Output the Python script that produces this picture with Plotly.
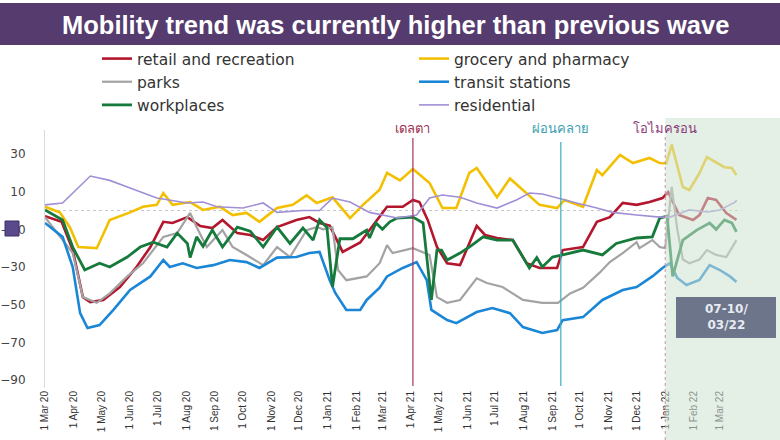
import plotly.graph_objects as go
import pandas as pd

# ---------------- data ----------------
retail_dates = ["2020-03-01","2020-03-19","2020-03-31","2020-04-11","2020-04-19","2020-05-03","2020-05-21","2020-06-08",
                "2020-06-23","2020-07-07","2020-07-17","2020-08-02","2020-08-16","2020-08-29","2020-09-09","2020-09-25",
                "2020-10-09","2020-10-23","2020-11-07","2020-11-28","2020-12-12","2020-12-23","2021-01-03","2021-01-12",
                "2021-01-17","2021-02-05","2021-02-15","2021-03-06","2021-03-23","2021-04-03","2021-04-10","2021-04-19",
                "2021-04-29","2021-05-10","2021-05-24","2021-06-03","2021-06-11","2021-06-20","2021-07-03","2021-07-20",
                "2021-08-04","2021-08-18","2021-09-06","2021-09-12","2021-10-04","2021-10-19","2021-11-02","2021-11-16",
                "2021-12-01","2021-12-15","2021-12-29","2022-01-04","2022-01-09","2022-01-16","2022-01-31","2022-02-07",
                "2022-02-16","2022-02-25","2022-03-08","2022-03-19"]
retail = [-3, -6, -21, -46, -48.6, -47.5, -40.6, -30,
          -19.4, -6, -6.6, -3.5, -8.2, -9.3, -5, -12,
          -13, -15.7, -8.8, -5, -3.5, -6.6, -8, -17,
          -22, -17, -10.4, 2, 2, 5.6, 4.5, -5,
          -19.4, -28, -29, -17.5, -8.2, -13, -14.6, -15.7,
          -28, -30.5, -30.5, -21, -19.4, -6, -3.5, 4,
          3, 4.5, 6.6, 9.8, 4.5, -2.4, -5, -2.4,
          6.6, 5.6, -1.3, -5]

grocery_dates = ["2020-03-01","2020-03-17","2020-03-28","2020-04-06","2020-04-26","2020-05-10","2020-06-01","2020-06-15",
                 "2020-06-30","2020-07-07","2020-07-17","2020-08-05","2020-08-19","2020-09-06","2020-09-20","2020-10-05",
                 "2020-10-19","2020-11-07","2020-11-24","2020-12-09","2020-12-20","2021-01-06","2021-01-25","2021-02-08",
                 "2021-02-26","2021-03-06","2021-03-20","2021-04-03","2021-04-21","2021-05-05","2021-05-20","2021-06-03",
                 "2021-06-11","2021-07-03","2021-07-17","2021-08-04","2021-08-18","2021-09-06","2021-09-14","2021-10-04",
                 "2021-10-19","2021-10-25","2021-11-13","2021-11-27","2021-12-15","2021-12-26","2022-01-02","2022-01-08",
                 "2022-01-13","2022-01-20","2022-01-27","2022-02-07","2022-02-15","2022-02-21","2022-03-06","2022-03-14",
                 "2022-03-19"]
grocery = [2, -1, -9, -19.4, -20, -5, -1, 2,
           3, 9.3, 3, 4.5, 0.3, 2, -2.4, -1.3,
           -6, 1.3, 3, 8, 4, 7, -4, 3,
           11, 20, 16, 22, 14.6, 1.3, 1.3, 20,
           22.6, 7, 17, 9.3, 3, 1.3, 5.6, 2,
           21.5, 18.8, 29.5, 25.2, 27.9, 25.2, 25, 35,
           25, 12.5, 10.9, 19.9, 28.4, 26.8, 23, 22.6,
           18.8]

parks_dates = ["2020-03-01","2020-03-31","2020-04-11","2020-04-26","2020-05-10","2020-05-29","2020-06-15","2020-07-07",
               "2020-07-22","2020-08-05","2020-08-12","2020-08-23","2020-09-09","2020-09-20","2020-10-05","2020-10-23",
               "2020-11-07","2020-11-21","2020-12-09","2020-12-20","2020-12-27","2021-01-06","2021-01-12","2021-01-21",
               "2021-02-12","2021-02-26","2021-03-06","2021-03-12","2021-04-03","2021-04-21","2021-04-29","2021-05-10",
               "2021-05-24","2021-06-11","2021-06-22","2021-07-09","2021-07-31","2021-08-21","2021-09-07","2021-09-20",
               "2021-10-04","2021-10-22","2021-11-02","2021-11-16","2021-12-01","2021-12-04","2021-12-18","2021-12-26",
               "2022-01-01","2022-01-08","2022-01-14","2022-01-20","2022-01-27","2022-02-07","2022-02-15","2022-02-25",
               "2022-03-08","2022-03-19"]
parks = [-3.5, -22.6, -46, -49, -44, -35, -28, -14,
         -12, -1.3, -8.8, -19.4, -10.4, -19.4, -23.6, -29,
         -19.4, -24.7, -10.4, -8.8, -10, -9, -31.6, -37,
         -35, -28, -18.4, -22.6, -20, -23.6, -46, -49,
         -47.5, -36, -38.5, -40.6, -47.5, -49, -49, -44,
         -41, -33, -27.4, -22.6, -16.8, -20, -15.7, -19.4,
         -20, 12.5, -10, -26, -28, -26, -21, -23.6,
         -24.7, -15.7]

transit_dates = ["2020-03-01","2020-03-20","2020-03-31","2020-04-08","2020-04-16","2020-04-29","2020-05-14","2020-06-01",
                 "2020-06-23","2020-07-07","2020-07-14","2020-07-28","2020-08-12","2020-08-30","2020-09-17","2020-10-05",
                 "2020-10-19","2020-11-07","2020-11-28","2020-12-12","2020-12-23","2021-01-03","2021-01-09","2021-01-21",
                 "2021-02-05","2021-02-12","2021-02-26","2021-03-06","2021-03-23","2021-04-07","2021-04-18","2021-04-23",
                 "2021-05-10","2021-05-20","2021-06-11","2021-06-28","2021-07-17","2021-07-31","2021-08-21","2021-09-06",
                 "2021-09-12","2021-10-04","2021-10-25","2021-11-16","2021-12-01","2021-12-18","2021-12-29","2022-01-06",
                 "2022-01-09","2022-01-14","2022-01-24","2022-02-07","2022-02-18","2022-03-01","2022-03-12","2022-03-19"]
transit = [-6.6, -14, -30, -54.5, -62.4, -60.8, -52.8, -42.2,
           -35, -26.3, -30, -28, -30.5, -29, -26.3, -27.4,
           -30.5, -25, -24.7, -22.6, -22, -37, -43.8, -52.8,
           -52.8, -47.5, -41, -35, -30.5, -27.4, -37, -52.8,
           -58.2, -59.8, -53.9, -51.8, -54.5, -61.9, -65, -63.5,
           -58.2, -56.6, -47.5, -42.2, -40.6, -35, -30.5, -28,
           -31, -35.8, -39.6, -36.9, -29, -31.6, -35, -38]

work_dates = ["2020-03-01","2020-03-20","2020-03-31","2020-04-13","2020-04-29","2020-05-10","2020-05-29","2020-06-12",
              "2020-06-26","2020-07-11","2020-07-22","2020-08-02","2020-08-05","2020-08-12","2020-08-19","2020-08-29",
              "2020-09-09","2020-09-25","2020-10-09","2020-10-23","2020-11-07","2020-11-21","2020-12-05","2020-12-16",
              "2020-12-23","2020-12-31","2021-01-06","2021-01-14","2021-01-28","2021-02-12","2021-02-15","2021-02-22",
              "2021-03-01","2021-03-09","2021-03-17","2021-04-03","2021-04-14","2021-04-23","2021-04-29","2021-05-04",
              "2021-05-10","2021-05-24","2021-06-03","2021-06-18","2021-07-03","2021-07-20","2021-08-07","2021-08-15",
              "2021-08-21","2021-09-01","2021-09-12","2021-10-04","2021-10-25","2021-11-09","2021-12-01","2021-12-18",
              "2021-12-26","2022-01-03","2022-01-09","2022-01-20","2022-02-04","2022-02-18","2022-02-25","2022-03-06",
              "2022-03-14","2022-03-19"]
workplaces = [0.3, -5, -19.4, -31.6, -28, -30, -24.7, -19.4,
              -16.8, -19.4, -12, -17.5, -25, -14, -19, -10.4,
              -19.4, -8.8, -11, -19.4, -8.8, -17.5, -9.3, -15.7,
              -5, -9, -40.6, -15, -15, -10.4, -14.6, -6.6,
              -10, -6, -4, -3.5, -6.6, -47.5, -21, -21,
              -26.3, -22.6, -19.4, -14, -15.7, -15.7, -30.5, -25,
              -30, -24.7, -23.6, -21, -23.6, -17.5, -14.6, -14,
              -4, -3, -35, -15.7, -10.4, -6.6, -10, -5,
              -6.6, -11.4]

resid_dates = ["2020-03-01","2020-03-20","2020-04-19","2020-05-10","2020-06-01","2020-06-30","2020-08-02","2020-08-19",
               "2020-09-03","2020-10-01","2020-10-23","2020-11-07","2020-12-05","2020-12-23","2021-01-06","2021-01-25",
               "2021-02-15","2021-02-26","2021-03-17","2021-04-07","2021-04-21","2021-05-05","2021-05-24","2021-06-11",
               "2021-07-03","2021-07-24","2021-08-07","2021-08-21","2021-09-06","2021-09-27","2021-10-19","2021-11-05",
               "2021-12-01","2021-12-26","2022-01-06","2022-01-27","2022-02-16","2022-03-01","2022-03-18","2022-03-19"]
residential = [3, 4, 18.3, 16, 12, 6.6, 4, 4.5,
               2, 1.3, 4, -1, 0, 0, 6.6, 4.5,
               -1, -2, -4, -2.4, 6.6, 8.2, 7, 4,
               1.3, 5.6, 9.3, 8.8, 6.6, 4, 1.3, -1,
               -2.4, -3.5, -3.5, 0.3, -0.8, 0.3, 4.5, 5.6]

y_ticks = [30, 10, -10, -30, -50, -70, -90]
wave_dates = ["2021-04-03", "2021-09-10", "2022-01-01"]
wave_labels = ["เดลตา", "ผ่อนคลาย", "โอไมครอน"]
title_text = "Mobility trend was currently higher than previous wave"
box_text = "07-10/<br>03/22"

# ---------------- layout geometry ----------------
W, H = 780, 440
ML, MR, MT, MB = 45, 38, 130, 52
PW, PH = W - ML - MR, H - MT - MB
X_START, X_END = pd.Timestamp("2020-03-01"), pd.Timestamp("2022-03-25")


def px(x):
    return (x - ML) / PW


def py(y):
    return (H - MB - y) / PH


def dfrac(d):
    return (pd.Timestamp(d) - X_START) / (X_END - X_START)


series = [
    ("retail and recreation", retail_dates, retail, "#b3162d", 2.6),
    ("grocery and pharmacy", grocery_dates, grocery, "#f2c000", 2.6),
    ("parks", parks_dates, parks, "#a3a3a3", 2.2),
    ("transit stations", transit_dates, transit, "#1c86d6", 2.6),
    ("workplaces", work_dates, workplaces, "#167a3c", 2.8),
    ("residential", resid_dates, residential, "#a18fd6", 1.6),
]

fig = go.Figure()
for name, d, v, c, w in series:
    fig.add_trace(go.Scatter(x=d, y=v, name=name, mode="lines",
                             line=dict(color=c, width=w)))

shapes = []
shapes.append(dict(type="line", xref="paper", yref="y", x0=0, x1=1, y0=0, y1=0,
                   line=dict(color="#c8c8c8", width=1, dash="dot"), layer="below"))
shapes.append(dict(type="line", xref="x", yref="paper", x0=wave_dates[0], x1=wave_dates[0],
                   y0=py(386), y1=py(138), line=dict(color="#a3355a", width=1.2)))
shapes.append(dict(type="line", xref="x", yref="paper", x0=wave_dates[1], x1=wave_dates[1],
                   y0=py(386), y1=py(142), line=dict(color="#3aaec0", width=1.2)))
shapes.append(dict(type="line", xref="x", yref="paper", x0=wave_dates[2], x1=wave_dates[2],
                   y0=py(440), y1=py(136), line=dict(color="#c86a8a", width=1, dash="dot")))
shapes.append(dict(type="rect", xref="paper", yref="paper", x0=dfrac(wave_dates[2]), x1=px(782),
                   y0=py(442), y1=py(118), fillcolor="rgba(205,225,210,0.55)", line=dict(width=0),
                   layer="above"))
shapes.append(dict(type="rect", xref="paper", yref="paper", x0=px(676), x1=px(776),
                   y0=py(338), y1=py(297), fillcolor="#6c7589", line=dict(width=0), layer="above"))
shapes.append(dict(type="rect", xref="paper", yref="paper", x0=px(-2), x1=px(782),
                   y0=py(45), y1=py(3), fillcolor="#563b6e", line=dict(width=0), layer="above"))
shapes.append(dict(type="rect", xref="paper", yref="paper", x0=px(5), x1=px(19),
                   y0=py(236), y1=py(221), fillcolor="#5a4a8c", line=dict(color="#3e2f66", width=1),
                   layer="above"))

annotations = [
    dict(text=title_text, xref="paper", yref="paper", x=px(396), y=py(25), xanchor="center",
         yanchor="middle", showarrow=False,
         font=dict(family="Liberation Sans", size=25.5, color="white", weight="bold")),
    dict(text=box_text, xref="paper", yref="paper", x=px(726), y=py(317), xanchor="center",
         yanchor="middle", showarrow=False,
         font=dict(family="DejaVu Sans", size=12, color="#e8ebf2", weight="bold")),
]
wave_colors = ["#9c2f4f", "#3a9fb0", "#8b3d7a"]
for d, lab, c in zip(wave_dates, wave_labels, wave_colors):
    annotations.append(dict(text=lab, xref="x", yref="paper", x=d, y=py(128), xanchor="center",
                            yanchor="middle", showarrow=False,
                            font=dict(family="Noto Sans, DejaVu Sans", size=13, color=c)))

fig.update_layout(
    width=W, height=H,
    margin=dict(l=ML, r=MR, t=MT, b=MB, pad=0, autoexpand=False),
    paper_bgcolor="white", plot_bgcolor="white",
    font=dict(family="DejaVu Sans", color="#333333"),
    showlegend=True,
    legend=dict(orientation="h", x=px(97), y=py(42), xanchor="left", yanchor="top",
                entrywidth=272, font=dict(family="DejaVu Sans", size=15.5, color="#333333"),
                bgcolor="rgba(0,0,0,0)", tracegroupgap=0, itemwidth=30),
    xaxis=dict(range=[X_START, X_END], type="date", dtick="M1", tick0="2020-03-01",
               tickformat="%-d %b %y", tickangle=-90, showgrid=False, zeroline=False,
               showline=False, ticks="",
               tickfont=dict(family="Liberation Sans Narrow, Liberation Sans", size=10, color="#333333")),
    yaxis=dict(range=[-94.25, 42.75], tickvals=y_ticks, showgrid=False, zeroline=False,
               showline=True, linecolor="#d8d8e0", linewidth=1, ticks="", ticklabelstandoff=16,
               tickfont=dict(family="DejaVu Sans", size=12, color="#444444")),
    shapes=shapes,
    annotations=annotations,
)

fig.write_html("out.html", config={"displayModeBar": False},
               post_script="document.body.style.margin='0';")
